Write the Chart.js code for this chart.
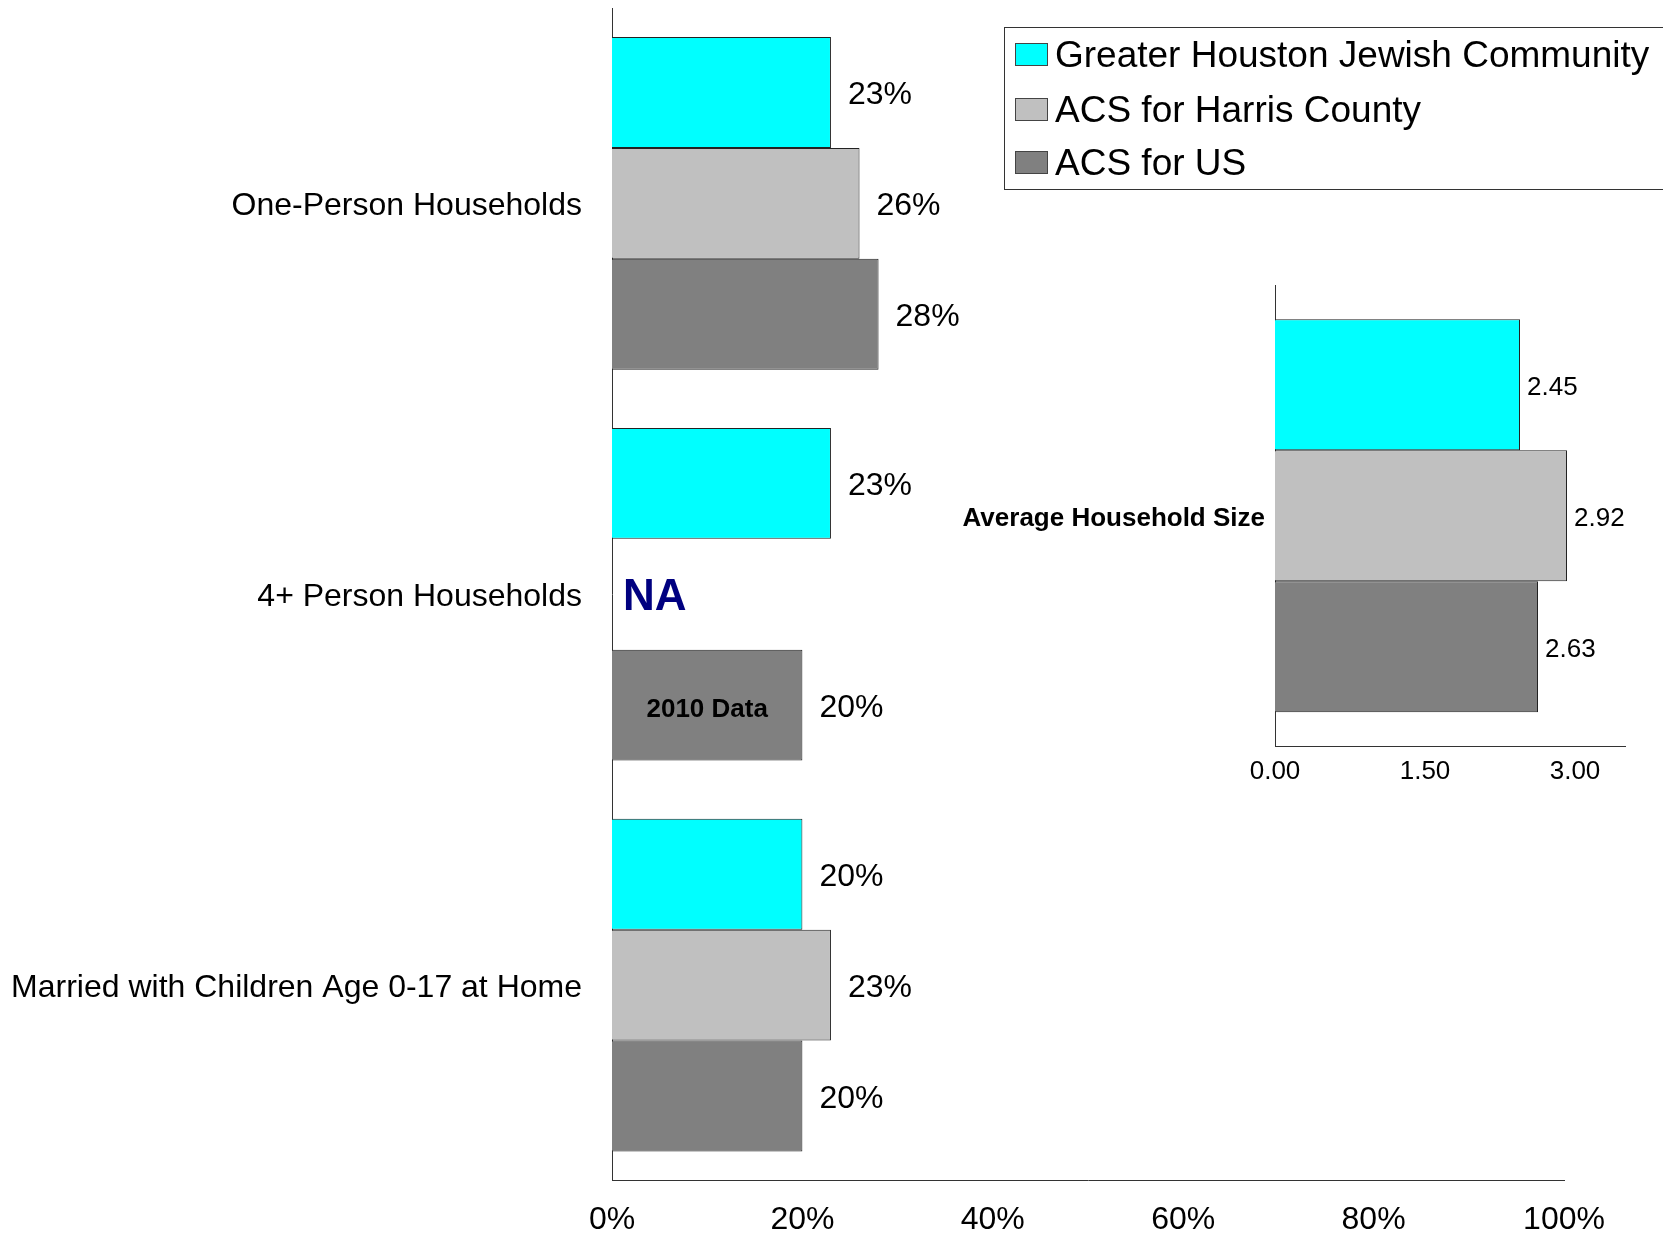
<!DOCTYPE html>
<html>
<head>
<meta charset="utf-8">
<script src="https://cdn.jsdelivr.net/npm/chart.js@4.4.1/dist/chart.umd.min.js"></script>
<style>
  body { margin: 0; background: #fff; }
  #principal { position: absolute; left: 0; top: 0; }
  #tamanho { position: absolute; left: 940px; top: 270px; }
</style>
</head>
<body>
<canvas id="principal" width="1663" height="1235"></canvas>
<canvas id="tamanho" width="723" height="530"></canvas>
<script>
// household types, share of households
const categorias = ['One-Person Households', '4+ Person Households', 'Married with Children Age 0-17 at Home'];
const series = ['Greater Houston Jewish Community', 'ACS for Harris County', 'ACS for US'];
const comunidade_judaica = [0.23, 0.23, 0.20];
const condado_harris = [0.26, null, 0.23];
const estados_unidos = [0.28, 0.20, 0.20];
const ticks_pct = [0, 0.2, 0.4, 0.6, 0.8, 1.0];
// note written inside a bar: [series, category, text]
const nota_barra = [2, 1, '2010 Data'];

// average household size
const categoria_tamanho = ['Average Household Size'];
const tamanho_judaica = [2.45];
const tamanho_harris = [2.92];
const tamanho_eua = [2.63];
const ticks_tamanho = [0, 1.5, 3.0];

const cores = ['#00FFFF', '#C0C0C0', '#808080'];
const fonte = "'Liberation Sans', Arial, sans-serif";

function monta_datasets(valores, percentual){
    return valores.map(function (v, i) {
        return {
            label: series[i],
            data: v,
            backgroundColor: cores[i],
            borderColor: '#222',
            borderWidth: 1,
            categoryPercentage: percentual,
            barPercentage: 1.0
        };
    });
}

// fixed width for the category axis, no extra room above/below
function eixo_categorias(largura){
    return function (eixo) {
        eixo.width = largura;
        eixo.paddingTop = 0;
        eixo.paddingBottom = 0;
    };
}

// value labels to the right of each bar
function rotulos_valores(tamanho_fonte, distancia, formato){
    return {
        id: 'rotulos',
        afterDatasetsDraw(chart){
            const ctx = chart.ctx;
            ctx.save();
            ctx.font = tamanho_fonte + 'px ' + fonte;
            ctx.fillStyle = '#000';
            ctx.textBaseline = 'middle';
            ctx.textAlign = 'left';
            chart.data.datasets.forEach(function (ds, i) {
                const meta = chart.getDatasetMeta(i);
                meta.data.forEach(function (barra, j) {
                    const v = ds.data[j];
                    if (v === null) return;
                    ctx.fillText(formato(v), barra.x + distancia, barra.y + 3);
                });
            });
            ctx.restore();
        }
    };
}

// NA marker, note inside a bar and the boxed legend
const extras_principal = {
    id: 'extras',
    afterDatasetsDraw(chart){
        const ctx = chart.ctx;
        const x0 = chart.scales.x.getPixelForValue(0);
        ctx.save();
        chart.data.datasets.forEach(function (ds, i) {
            const meta = chart.getDatasetMeta(i);
            ds.data.forEach(function (v, j) {
                if (v !== null) return;
                ctx.font = 'bold 44px ' + fonte;
                ctx.fillStyle = '#000080';
                ctx.textBaseline = 'middle';
                ctx.textAlign = 'left';
                ctx.fillText('NA', x0 + 11, meta.data[j].y + 4);
            });
        });
        const barra = chart.getDatasetMeta(nota_barra[0]).data[nota_barra[1]];
        ctx.font = 'bold 26px ' + fonte;
        ctx.fillStyle = '#000';
        ctx.textAlign = 'center';
        ctx.textBaseline = 'middle';
        ctx.fillText(nota_barra[2], (barra.x + barra.base) / 2, barra.y + 5);

        // legend
        ctx.strokeStyle = '#333';
        ctx.lineWidth = 1;
        ctx.strokeRect(1004.5, 27.5, 700, 162);
        const linhas = [54, 109, 162];
        chart.data.datasets.forEach(function (ds, i) {
            ctx.fillStyle = ds.backgroundColor;
            ctx.fillRect(1015, linhas[i] - 11, 33, 23);
            ctx.strokeStyle = '#444';
            ctx.strokeRect(1015.5, linhas[i] - 10.5, 32, 22);
            ctx.font = '37px ' + fonte;
            ctx.fillStyle = '#000';
            ctx.textAlign = 'left';
            ctx.textBaseline = 'middle';
            ctx.fillText(ds.label, 1055, linhas[i] + 3);
        });
        ctx.restore();
    }
};

function renderiza_principal(){
    const ctx = document.getElementById('principal').getContext('2d');
    new Chart(ctx, {
        type: 'bar',
        data: {
            labels: categorias,
            datasets: monta_datasets([comunidade_judaica, condado_harris, estados_unidos], 0.851)
        },
        options: {
            indexAxis: 'y',
            responsive: false,
            animation: false,
            layout: { padding: { left: 0, top: 8, right: 99, bottom: 0 } },
            plugins: { legend: { display: false }, tooltip: { enabled: false } },
            scales: {
                x: {
                    min: 0,
                    max: 1,
                    afterBuildTicks: function (eixo) { eixo.ticks = ticks_pct.map(function (v) { return { value: v }; }); },
                    afterFit: function (eixo) { eixo.height = 54.5; },
                    grid: { display: false, drawTicks: false },
                    border: { display: true, color: '#333', width: 1 },
                    ticks: {
                        padding: 20,
                        maxRotation: 0,
                        color: '#000',
                        font: { family: fonte, size: 32 },
                        callback: function (v) { return Math.round(v * 100) + '%'; }
                    }
                },
                y: {
                    afterFit: eixo_categorias(612),
                    grid: { display: false, drawTicks: false },
                    border: { display: true, color: '#333', width: 1 },
                    ticks: { padding: 30, labelOffset: 3, color: '#000', font: { family: fonte, size: 32 } }
                }
            }
        },
        plugins: [rotulos_valores(32, 17, function (v) { return Math.round(v * 100) + '%'; }), extras_principal]
    });
}

function renderiza_tamanho(){
    const ctx = document.getElementById('tamanho').getContext('2d');
    new Chart(ctx, {
        type: 'bar',
        data: {
            labels: categoria_tamanho,
            datasets: monta_datasets([tamanho_judaica, tamanho_harris, tamanho_eua], 0.852)
        },
        options: {
            indexAxis: 'y',
            responsive: false,
            animation: false,
            layout: { padding: { left: 0, top: 15, right: 38, bottom: 0 } },
            plugins: { legend: { display: false }, tooltip: { enabled: false } },
            scales: {
                x: {
                    min: 0,
                    max: 3.5,
                    afterBuildTicks: function (eixo) { eixo.ticks = ticks_tamanho.map(function (v) { return { value: v }; }); },
                    afterFit: function (eixo) { eixo.height = 53.5; },
                    grid: { display: false, drawTicks: false },
                    border: { display: true, color: '#333', width: 1 },
                    ticks: {
                        padding: 10,
                        maxRotation: 0,
                        color: '#000',
                        font: { family: fonte, size: 26 },
                        callback: function (v) { return v.toFixed(2); }
                    }
                },
                y: {
                    afterFit: eixo_categorias(335),
                    grid: { display: false, drawTicks: false },
                    border: { display: true, color: '#333', width: 1 },
                    ticks: { padding: 10, labelOffset: 3, color: '#000', font: { family: fonte, size: 26, weight: 'bold' } }
                }
            }
        },
        plugins: [rotulos_valores(26, 7, function (v) { return v.toFixed(2); })]
    });
}

window.onload = function () {
    renderiza_principal();
    renderiza_tamanho();
};
</script>
</body>
</html>
